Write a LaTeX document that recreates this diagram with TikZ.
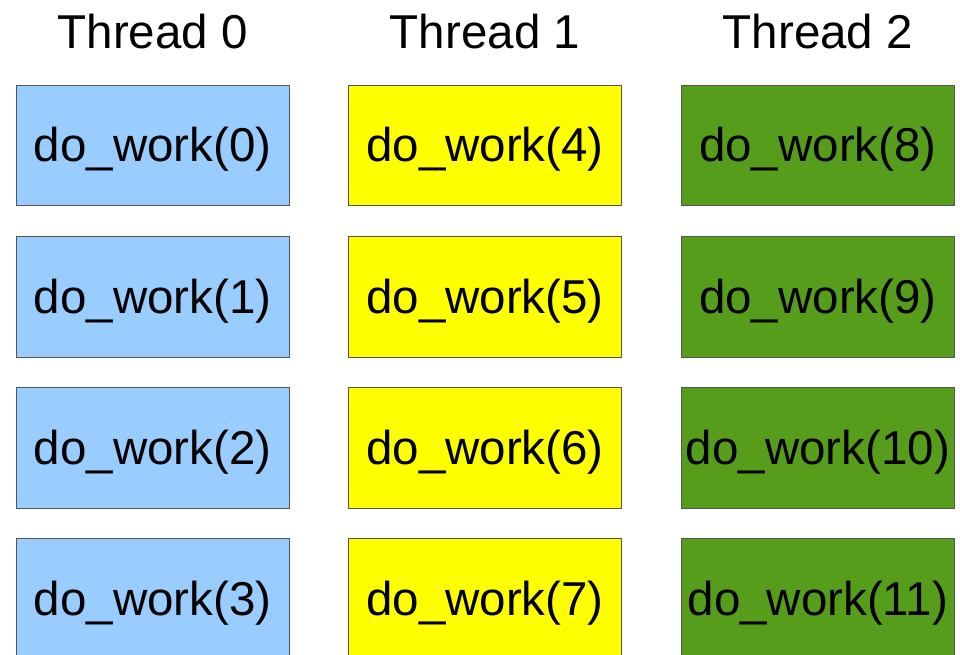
\documentclass[tikz,border=0pt]{standalone}
\usepackage{fontspec}
\setmainfont{Liberation Sans}
\definecolor{tblue}{HTML}{99CCFF}
\definecolor{tyellow}{HTML}{FFFF00}
\definecolor{tgreen}{HTML}{579D1C}
\definecolor{tborder}{HTML}{555555}
\begin{document}
\begin{tikzpicture}[x=1pt,y=-1pt,
  workbox/.style={draw=tborder, line width=1pt, rectangle, inner sep=0pt,
    minimum width=272.5pt, minimum height=120.7pt,
    text height=32.7pt, text depth=0pt,
    font=\fontsize{47.5}{57}\selectfont},
  title/.style={anchor=base, inner sep=0pt, font=\fontsize{47.5}{57}\selectfont}]
\useasboundingbox (0,0) rectangle (960,654);
\clip (0,0) rectangle (960,654);
\fill[white] (0,0) rectangle (960,654);
\node[title] (t0) at (152.7,48.5) {Thread 0};
\node[title] (t1) at (485,48.5) {Thread 1};
\node[title] (t2) at (817.9,48.5) {Thread 2};
\foreach \r in {0,1,2,3}{
  \pgfmathsetmacro{\cy}{145.35+151.3*\r}
  \pgfmathtruncatemacro{\na}{\r}
  \pgfmathtruncatemacro{\nb}{\r+4}
  \pgfmathtruncatemacro{\nc}{\r+8}
  \node[workbox, fill=tblue] (a\r) at (152.75,\cy) {do\_work(\na)};
  \node[workbox, fill=tyellow] (b\r) at (485,\cy) {do\_work(\nb)};
  \node[workbox, fill=tgreen] (c\r) at (817.9,\cy) {do\_work(\nc)};
}
\end{tikzpicture}
\end{document}
